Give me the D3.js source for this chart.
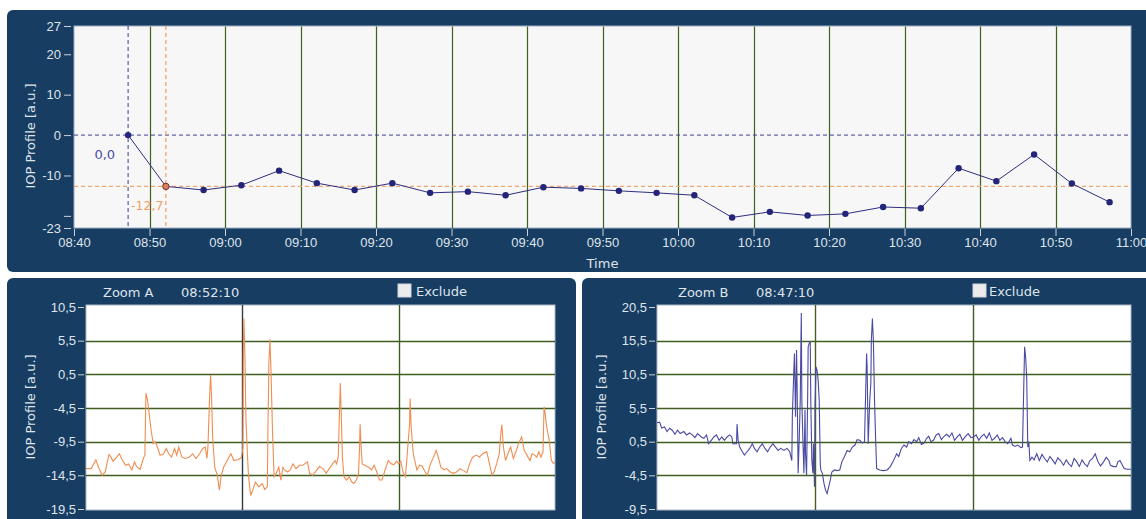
<!DOCTYPE html>
<html>
<head>
<meta charset="utf-8">
<title>IOP Profile</title>
<script src="https://cdn.jsdelivr.net/npm/d3@7"></script>
<style>
  html, body { margin: 0; padding: 0; background: #ffffff; }
  svg { display: block; font-family: "DejaVu Sans", Verdana, sans-serif; }
  .axis text { fill: #dfe4ea; font-size: 13px; }
  .axis line { stroke: #c9d1db; }
  .axis path { display: none; }
  .title { fill: #dfe4ea; font-size: 13px; }
</style>
</head>
<body>
<script>
(function () {
  "use strict";

  // top overview chart
  const topTimes = ["08:47:10", "08:52:10", "08:57:10", "09:02:10", "09:07:10", "09:12:10", "09:17:10",
    "09:22:10", "09:27:10", "09:32:10", "09:37:10", "09:42:10", "09:47:10", "09:52:10", "09:57:10",
    "10:02:10", "10:07:10", "10:12:10", "10:17:10", "10:22:10", "10:27:10", "10:32:10", "10:37:10",
    "10:42:10", "10:47:10", "10:52:10", "10:57:10"];
  const topValues = [0, -12.7, -13.6, -12.4, -8.8, -11.9, -13.6, -11.9, -14.3, -14.0, -14.9, -12.9, -13.2,
    -13.8, -14.3, -14.9, -20.4, -19.0, -19.9, -19.5, -17.8, -18.1, -8.2, -11.4, -4.8, -12.0, -16.6];
  const topYTicks = [27, 20, 10, 0, -10, -20, -23];
  const topHiddenTicks = [-20];
  const topStart = "08:40:00";
  const topEnd = "11:00:00";
  const markerA = { time: "08:52:10", value: -12.7, label: "-12,7" };
  const markerB = { time: "08:47:10", value: 0, label: "0,0" };

  // zoom windows, time in seconds from window start
  const zoomDomain = [0, 90];
  const zoomGrid = [30, 60];
  const zoomATicks = [10.5, 5.5, 0.5, -4.5, -9.5, -14.5, -19.5];
  const zoomBTicks = [20.5, 15.5, 10.5, 5.5, 0.5, -4.5, -9.5];

  const zoomATimes = [0, 1.0, 1.9, 2.4, 3.1, 3.7, 4.4, 4.8, 5.2, 5.9, 6.4, 6.9, 7.6, 8.2, 8.8, 9.3, 9.7, 10.4,
    11.0, 11.3, 11.5, 11.8, 12.0, 12.5, 12.9, 13.3, 13.7, 14.2, 14.8, 15.4, 15.9, 16.4, 17.0, 17.4, 17.8,
    18.4, 19.1, 19.8, 20.5, 21.1, 21.8, 22.4, 22.9, 23.2, 23.4, 23.7, 23.9, 24.1, 24.3, 24.7, 25.2, 25.6,
    25.9, 26.4, 27.1, 27.8, 28.4, 29.1, 29.8, 30.1, 30.2, 30.3, 30.5, 30.7, 31.0, 31.2, 31.6, 32.0, 32.5,
    33.2, 33.8, 34.3, 34.8, 34.9, 35.1, 35.3, 35.5, 35.8, 36.1, 36.5, 37.0, 37.4, 37.8, 38.1, 38.7, 39.2,
    39.7, 40.3, 41.0, 41.6, 42.5, 42.9, 43.5, 44.2, 44.8,
    45.5, 46.1, 46.7, 47.3, 47.8, 48.1, 48.4, 48.6, 48.8, 49.0, 49.2, 49.5, 50.0, 50.5, 51.0, 51.4, 51.9,
    52.3, 52.5, 52.6, 52.8, 53.0, 53.5, 54.2, 54.8, 55.3, 55.8, 56.3, 56.8, 57.4, 58.0, 58.6, 59.1, 59.6,
    60.0, 60.4, 60.9, 61.3, 61.7, 62.1, 62.2, 62.4, 62.8, 63.5, 64.0, 64.5, 65.1, 65.5, 66.1, 66.7, 67.2,
    67.6, 68.1, 68.7, 69.2, 69.9, 70.5, 71.1, 71.8, 72.4, 73.1, 73.6, 74.2, 74.9, 75.5, 76.1, 76.9, 77.3,
    77.9, 78.3, 78.8, 79.3, 79.6, 79.8, 80.1, 80.5, 81.1, 81.5, 82.0, 82.5, 83.0, 83.6, 84.1, 84.6, 85.2,
    85.6, 86.1, 86.5, 86.9, 87.3, 87.7, 87.9, 88.1, 88.4, 88.9, 89.3, 89.7, 90.0];
  const zoomAValues = [-13.5, -13.5, -12.2, -13.3, -14.5, -14.0, -11.4, -11.8, -12.4, -11.8, -11.3, -12.1,
    -13.0, -12.8, -13.7, -12.5, -13.2, -13.6, -12.0, -11.5, -2.3, -3.3, -4.6, -7.8, -9.8, -9.5, -10.3,
    -11.5, -11.4, -10.5, -11.3, -11.8, -10.5, -11.5, -10.3, -11.8, -12.0, -11.8, -11.3, -12.0, -11.3,
    -10.5, -10.3, -12.0, -10.3, -3.3, 0.4, -2.8, -8.8, -13.3, -14.5, -16.7, -14.7, -13.3, -12.3, -11.3,
    -12.3, -12.2, -11.9, -10.5, 3.6, 8.8, 3.1, -6.3, -11.8, -14.7, -17.5, -16.7, -15.5, -16.2, -15.7,
    -16.6, -16.2, -8.3, 2.4, 5.7, 0.9, -8.3, -14.7, -14.2, -13.3, -15.2, -13.3, -13.7, -14.0, -13.7,
    -12.8, -13.5, -13.0, -13.0, -12.5, -14.2, -14.5, -13.8, -13.2,
    -13.5, -14.2, -13.5, -12.8, -12.3, -12.8, -11.8, -6.3, -0.8, -5.8, -11.8, -14.7, -15.2, -14.7, -15.5,
    -15.7, -15.2, -14.2, -10.3, -6.9, -10.3, -12.8, -13.0, -13.3, -13.7, -13.0, -14.0, -15.2, -15.2,
    -13.7, -12.3, -12.8, -12.9, -12.4, -12.8, -12.4, -14.2, -14.7, -10.8, -6.8, -3.1, -7.3, -11.3,
    -13.7, -13.0, -13.1, -14.0, -14.5, -12.8, -11.8, -10.8, -11.8, -13.3, -13.7, -13.5, -14.0, -14.2,
    -14.0, -13.5, -13.8, -14.1, -12.8, -11.8, -11.5, -11.8, -11.3, -11.0, -12.3, -14.5, -14.0, -12.8,
    -11.3, -8.3, -7.0, -10.3, -12.3, -11.0, -10.3, -12.0, -11.0, -9.8, -8.8, -10.8, -11.5, -12.3, -11.3,
    -11.5, -11.8, -11.0, -11.8, -11.0, -4.3, -5.3, -7.3, -9.3, -12.3, -12.7, -12.6];

  const zoomBTimes = [0, 0.5, 0.9, 1.4, 1.9, 2.4, 2.9, 3.4, 3.9, 4.4, 5.1, 5.6, 6.2, 6.7, 7.2, 7.7, 8.4, 8.9,
    9.4, 9.8, 10.3, 10.8, 11.3, 11.8, 12.3, 12.8, 13.3, 13.8, 14.2, 14.4, 15.1, 15.2, 15.4, 15.7, 16.2,
    16.6, 17.1, 17.6, 18.1, 18.5, 19.0, 19.5, 20.0, 20.5, 21.0, 21.5, 22.0, 22.5, 23.0, 23.5, 24.1, 24.7,
    25.2, 25.6, 25.7, 26.0, 26.1, 26.3, 26.5, 26.6, 26.8, 27.0, 27.2, 27.3, 27.4, 27.5, 27.7, 27.9, 28.1,
    28.2, 28.4, 28.6, 28.7, 28.9, 29.1, 29.2, 29.4, 29.6, 29.7, 29.9, 30.0, 30.2, 30.4, 30.6, 30.8, 31.0,
    31.1, 31.4, 31.7, 32.0, 32.3, 32.6, 32.9, 33.2, 33.7, 34.2, 34.7, 35.1, 35.6, 36.1, 36.6, 37.1, 37.6,
    38.0, 38.5, 39.0, 39.4, 39.6, 39.8, 39.9, 40.1, 40.4, 40.6, 40.7, 40.9, 41.1, 41.3, 41.5, 41.7, 42.3,
    43.0, 43.7, 44.3, 44.8,
    45.5, 45.9, 46.4, 46.9, 47.4, 47.8, 48.3, 48.8, 49.3, 49.7, 50.2, 50.7, 51.2, 51.6, 52.0, 52.5, 53.0,
    53.5, 54.0, 54.5, 55.0, 55.5, 56.0, 56.5, 57.0, 57.5, 58.0, 58.5, 59.1, 59.6, 60.1, 60.6, 61.1, 61.6,
    62.1, 62.6, 63.1, 63.6, 64.1, 64.6, 65.1, 65.6, 66.1, 66.6, 67.2, 67.5, 68.0, 68.5, 69.1, 69.4, 69.6,
    69.8, 70.0, 70.2, 70.3, 70.4, 70.6, 70.8, 71.2, 71.6, 72.1, 72.6, 73.1, 73.6, 74.1, 74.6, 75.1, 75.6,
    76.1, 76.6, 77.2, 77.7, 78.2, 78.7, 79.2, 79.7, 80.2, 80.7, 81.2, 81.7, 82.2, 82.7, 83.2, 83.7, 84.2,
    84.8, 85.3, 85.8, 86.1, 86.7, 87.2, 87.5, 87.9, 88.3, 88.7, 89.3, 90.0];
  const zoomBValues = [3.3, 3.4, 2.5, 2.7, 2.0, 2.5, 2.2, 1.6, 2.2, 1.7, 2.0, 1.5, 1.8, 1.5, 1.1, 1.7, 1.2,
    1.0, 1.5, 0.2, 0.7, 1.2, 1.5, 0.7, 1.2, 0.7, 1.2, 1.5, 1.2, 0.2, 0.2, 3.1, 0.7, -0.3, -1.0, -1.5,
    -1.0, -0.5, 0.2, -0.5, -1.0, -0.3, 0.2, -0.5, -1.0, -0.3, 0.2, -0.3, -0.8, -0.5, -0.8, -0.5, -1.0,
    -2.3, 4.4, 11.6, 13.6, 4.2, 14.1, 9.1, -4.2, 0.7, 6.7, 13.6, 19.6, 6.7, 0.7, -4.2, 5.2, -1.3, -4.5,
    6.7, 14.6, 15.1, 15.4, 6.7, -2.3, -4.2, 0.2, -6.2, 5.7, 11.6, 11.1, 9.6, 6.7, -2.8, -3.7, -4.2, -5.7,
    -6.7, -7.2, -6.2, -5.2, -4.0, -3.7, -3.8, -3.7, -2.5, -1.7, -0.8, -1.0, -0.3, 0.0, 0.8, 0.7, 0.3,
    0.5, 7.2, 13.6, 11.6, 0.2, 6.7, 9.1, 15.6, 18.8, 15.1, 6.7, 1.2, -3.5, -3.7, -3.8, -3.7, -3.2, -2.5,
    -1.3, -1.7, -0.5, 0.0, -0.3, 0.5, 0.2, 0.8, 0.5, 1.1, 0.1, 0.3, 1.0, 1.3, 0.5, 0.7, 1.5, 1.7, 0.8,
    1.3, 1.6, 1.2, 1.8, 0.7, 1.2, 1.6, 0.7, 1.2, 1.7, 1.1, 1.2, 1.5, 0.7, 1.3, 1.6, 1.0, 1.8, 0.7, 1.0,
    1.5, 0.7, 1.1, 0.5, 0.2, 1.0, 0.0, -0.2, 0.0, -0.4, -0.3, 7.2, 14.6, 13.0, 9.9, 4.9, -0.3, 0.5,
    -2.3, -1.8, -2.2, -1.3, -2.3, -1.4, -2.0, -2.5, -1.7, -2.2, -2.8, -1.9, -2.3, -3.0, -2.2, -2.8, -3.2,
    -2.0, -2.5, -3.2, -2.2, -2.8, -3.2, -2.3, -2.0, -1.3, -2.4, -3.1, -2.5, -1.8, -2.3, -3.0, -3.2, -3.2,
    -2.5, -2.3, -2.9, -3.5, -3.6, -3.6];

  const NAVY = "#173d63";
  const GRID = "#40621f";
  const BLUE_DASH = "#3f3f9e";
  const ORANGE_DASH = "#f2a56d";
  const LINE_TOP = "#2e2e80";
  const LINE_A = "#ef8d52";
  const LINE_B = "#4a4aa3";

  const parseTime = d3.timeParse("%H:%M:%S");
  const commaFormat = d => String(d).replace(".", ",");

  const svg = d3.select("body").append("svg")
    .attr("width", 1146)
    .attr("height", 519);

  // panels
  svg.append("rect").attr("x", 7).attr("y", 10).attr("width", 1150).attr("height", 262)
    .attr("rx", 6).attr("fill", NAVY);
  svg.append("rect").attr("x", 7).attr("y", 278).attr("width", 569).attr("height", 260)
    .attr("rx", 6).attr("fill", NAVY);
  svg.append("rect").attr("x", 582).attr("y", 278).attr("width", 580).attr("height", 260)
    .attr("rx", 6).attr("fill", NAVY);

  function drawTop() {
    const left = 74, right = 1131, top = 26, bottom = 228;
    const data = topTimes.map((t, i) => ({ time: parseTime(t), value: topValues[i] }));
    const x = d3.scaleTime().domain([parseTime(topStart), parseTime(topEnd)]).range([left, right]);
    const y = d3.scaleLinear().domain([-23, 27]).range([bottom, top]);
    const g = svg.append("g");

    g.append("rect")
      .attr("x", left).attr("y", top)
      .attr("width", right - left).attr("height", bottom - top)
      .attr("fill", "#f7f7f7")
      .attr("stroke", "#9eb0c3");

    const xTicks = x.ticks(d3.timeMinute.every(10));
    g.append("g").selectAll("line")
      .data(xTicks.slice(1, -1))
      .join("line")
      .attr("x1", d => Math.round(x(d)) + 0.5).attr("x2", d => Math.round(x(d)) + 0.5)
      .attr("y1", top + 0.5).attr("y2", bottom)
      .attr("stroke", GRID).attr("stroke-width", 1.2);

    // reference cursors
    const mB = parseTime(markerB.time), mA = parseTime(markerA.time);
    g.append("line").attr("x1", left).attr("x2", right)
      .attr("y1", y(markerB.value)).attr("y2", y(markerB.value))
      .attr("stroke", BLUE_DASH).attr("stroke-dasharray", "4,3");
    g.append("line").attr("x1", x(mB)).attr("x2", x(mB))
      .attr("y1", top).attr("y2", bottom)
      .attr("stroke", BLUE_DASH).attr("stroke-dasharray", "4,3");
    g.append("line").attr("x1", left).attr("x2", right)
      .attr("y1", y(markerA.value)).attr("y2", y(markerA.value))
      .attr("stroke", ORANGE_DASH).attr("stroke-dasharray", "4,3").attr("stroke-width", 1.3);
    g.append("line").attr("x1", x(mA)).attr("x2", x(mA))
      .attr("y1", top).attr("y2", bottom)
      .attr("stroke", ORANGE_DASH).attr("stroke-dasharray", "4,3").attr("stroke-width", 1.3);

    g.append("text")
      .attr("x", x(mB) - 13).attr("y", y(markerB.value) + 19)
      .attr("dy", "0.35em").attr("text-anchor", "end")
      .attr("fill", "#4b4ba6").attr("font-size", 13)
      .text(markerB.label);
    g.append("text")
      .attr("x", x(mB) + 3).attr("y", y(markerA.value) + 19)
      .attr("dy", "0.35em").attr("text-anchor", "start")
      .attr("fill", "#f0a068").attr("font-size", 12.5)
      .text(markerA.label);

    const line = d3.line().x(d => x(d.time)).y(d => y(d.value));
    g.append("path")
      .datum(data)
      .attr("d", line)
      .attr("fill", "none")
      .attr("stroke", LINE_TOP)
      .attr("stroke-width", 1);

    g.append("g").selectAll("circle")
      .data(data)
      .join("circle")
      .attr("cx", d => x(d.time)).attr("cy", d => y(d.value))
      .attr("r", 3.2)
      .attr("fill", d => d.time.getTime() === mA.getTime() ? "#d98060" : "#24247a")
      .attr("stroke", d => d.time.getTime() === mA.getTime() ? "#7d3022" : "none");

    g.append("g")
      .attr("class", "axis")
      .attr("transform", `translate(${left - 3},0)`)
      .call(d3.axisLeft(y).tickValues(topYTicks).tickSize(7).tickPadding(3)
        .tickFormat(d => topHiddenTicks.includes(d) ? "" : String(d)));

    g.append("g")
      .attr("class", "axis")
      .attr("transform", `translate(0,${bottom + 1})`)
      .call(d3.axisBottom(x).ticks(d3.timeMinute.every(10)).tickSize(7).tickPadding(2)
        .tickFormat(d3.timeFormat("%H:%M")));

    g.append("text").attr("class", "title")
      .attr("x", (left + right) / 2).attr("y", 263)
      .attr("dy", "0.35em").attr("text-anchor", "middle")
      .text("Time");

    g.append("text").attr("class", "title")
      .attr("transform", `translate(30,136) rotate(-90)`)
      .attr("dy", "0.35em").attr("text-anchor", "middle")
      .text("IOP Profile [a.u.]");
  }

  function drawZoom(opt) {
    const top = 305, bottom = 510;
    const data = opt.times.map((t, i) => ({ t: t, value: opt.values[i] }));
    const x = d3.scaleLinear().domain(zoomDomain).range([opt.left, opt.right]);
    const y = d3.scaleLinear().domain(d3.extent(opt.ticks)).range([509, 307]);
    const g = svg.append("g");
    const clipId = "clip-" + opt.name.replace(" ", "");

    g.append("clipPath").attr("id", clipId)
      .append("rect")
      .attr("x", opt.left).attr("y", top)
      .attr("width", opt.right - opt.left).attr("height", bottom - top);

    g.append("rect")
      .attr("x", opt.left).attr("y", top)
      .attr("width", opt.right - opt.left).attr("height", bottom - top)
      .attr("fill", "#ffffff")
      .attr("stroke", "#a9b8c8");

    g.append("g").selectAll("line")
      .data(opt.ticks.slice(1, -1))
      .join("line")
      .attr("x1", opt.left).attr("x2", opt.right)
      .attr("y1", d => Math.round(y(d)) + 0.5).attr("y2", d => Math.round(y(d)) + 0.5)
      .attr("stroke", "#3f5d1e").attr("stroke-width", 1.4);

    g.append("g").selectAll("line")
      .data(zoomGrid)
      .join("line")
      .attr("x1", d => Math.round(x(d)) + 0.5).attr("x2", d => Math.round(x(d)) + 0.5)
      .attr("y1", top).attr("y2", bottom)
      .attr("stroke", (d, i) => i === 0 ? opt.cursorColor : "#3f5d1e")
      .attr("stroke-width", 1.4);

    g.append("path")
      .datum(data)
      .attr("clip-path", `url(#${clipId})`)
      .attr("d", d3.line().x(d => x(d.t)).y(d => y(d.value)))
      .attr("fill", "none")
      .attr("stroke", opt.color)
      .attr("stroke-width", 1.1);

    g.append("g")
      .attr("class", "axis")
      .attr("transform", `translate(${opt.left - 2},0)`)
      .call(d3.axisLeft(y).tickValues(opt.ticks).tickSize(6).tickPadding(2).tickFormat(commaFormat));

    g.append("text").attr("class", "title")
      .attr("transform", `translate(${opt.left - 56},407) rotate(-90)`)
      .attr("dy", "0.35em").attr("text-anchor", "middle")
      .text("IOP Profile [a.u.]");

    g.append("text").attr("class", "title")
      .attr("x", opt.nameX).attr("y", 292).attr("dy", "0.35em")
      .attr("font-size", 12.5)
      .text(opt.name);
    g.append("text").attr("class", "title")
      .attr("x", opt.timeX).attr("y", 292).attr("dy", "0.35em")
      .attr("font-size", 12.5)
      .text(opt.time);

    g.append("rect")
      .attr("x", opt.boxX).attr("y", 284)
      .attr("width", 13).attr("height", 13)
      .attr("fill", "#ececec")
      .attr("stroke", "#d0d6dc");
    g.append("text").attr("class", "title")
      .attr("x", opt.boxX + opt.boxGap).attr("y", 291).attr("dy", "0.35em")
      .attr("font-size", 12.5)
      .text("Exclude");
  }

  drawTop();
  drawZoom({
    name: "Zoom A", time: markerA.time, left: 86, right: 555,
    times: zoomATimes, values: zoomAValues, ticks: zoomATicks,
    color: LINE_A, cursorColor: "#2f3b3f",
    nameX: 103, timeX: 181, boxX: 398, boxGap: 18
  });
  drawZoom({
    name: "Zoom B", time: markerB.time, left: 657, right: 1131,
    times: zoomBTimes, values: zoomBValues, ticks: zoomBTicks,
    color: LINE_B, cursorColor: "#4a5e1e",
    nameX: 678, timeX: 756, boxX: 973, boxGap: 16
  });
})();
</script>
</body>
</html>
